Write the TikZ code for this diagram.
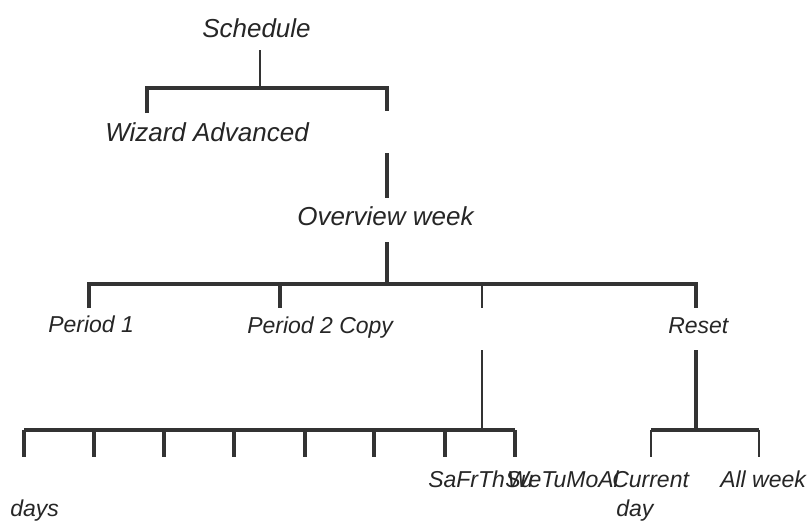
\documentclass[tikz,border=0pt]{standalone}
\usepackage{fontspec}
\setmainfont{Liberation Sans}
\begin{document}
\begin{tikzpicture}[x=0.75pt,y=-0.75pt,
  big/.style={inner sep=0pt,anchor=base west,font=\fontsize{19.5}{22}\selectfont\itshape,text=black!85},
  small/.style={inner sep=0pt,anchor=base west,font=\fontsize{17.25}{20}\selectfont\itshape,text=black!85},
  thick line/.style={line width=2.4pt,draw=black!80},
  thin line/.style={line width=1.3pt,draw=black!80}]
\useasboundingbox[fill=white] (0,0) rectangle (809,529);
% labels
\node[big] (sched) at (202,37) {Schedule};
\node[big] (wiz) at (105,141) {Wizard Advanced};
\node[big] (over) at (297,225) {Overview week};
\node[small] (p1) at (48,332) {Period 1};
\node[small] (p2) at (247,333) {Period 2 Copy};
\node[small] (reset) at (668,333) {Reset};
\node[small] (sft) at (428,487) {SaFrTh};
\node[small] (su) at (505,487) {Su};
\node[small] (we) at (507,487) {We};
\node[small] (tma) at (541,487) {TuMoAl};
\node[small] (cur) at (612,487) {Current};
\node[small] (day) at (616,516) {day};
\node[small] (allw) at (720,487) {All week};
\node[small] (days) at (10,516) {days};
% coordinates
\coordinate (s0) at (260,50);
\coordinate (s1) at (260,88);
\coordinate (bl) at (147,88);
\coordinate (br) at (387,88);
\coordinate (wl) at (147,113);
\coordinate (wr) at (387,111);
\coordinate (o0) at (387,153);
\coordinate (o1) at (387,198);
\coordinate (o2) at (387,242);
\coordinate (o3) at (387,284);
\coordinate (ml) at (89,284);
\coordinate (mr) at (696,284);
\coordinate (m2) at (280,284);
\coordinate (m3) at (482,284);
\coordinate (d1) at (89,308);
\coordinate (d2) at (280,308);
\coordinate (d3) at (482,308);
\coordinate (d4) at (696,308);
\coordinate (v3a) at (482,350);
\coordinate (v3b) at (482,430);
\coordinate (v4a) at (696,350);
\coordinate (v4b) at (696,430);
\coordinate (bbl) at (24,430);
\coordinate (bbr) at (515,430);
\coordinate (rbl) at (651,430);
\coordinate (rbr) at (759,430);
% connectors
\draw[thin line] (s0) -- (s1);
\draw[thick line] (wl) -- (bl) -- (br) -- (wr);
\draw[thick line] (o0) -- (o1);
\draw[thick line] (o2) -- (o3);
\draw[thick line] (d1) -- (ml) -- (mr) -- (d4);
\draw[thick line] (m2) -- (d2);
\draw[thin line] (m3) -- (d3);
\draw[thin line] (v3a) -- (v3b);
\draw[thick line] (v4a) -- (v4b);
\draw[thick line] (bbl) -- (bbr);
\foreach \x in {24,94,164,234,305,374,445,515}
  \draw[thick line] (\x,430) -- (\x,457);
\draw[thick line] (rbl) -- (rbr);
\draw[thin line] (rbl) -- (651,457);
\draw[thin line] (rbr) -- (759,457);
\end{tikzpicture}
\end{document}
